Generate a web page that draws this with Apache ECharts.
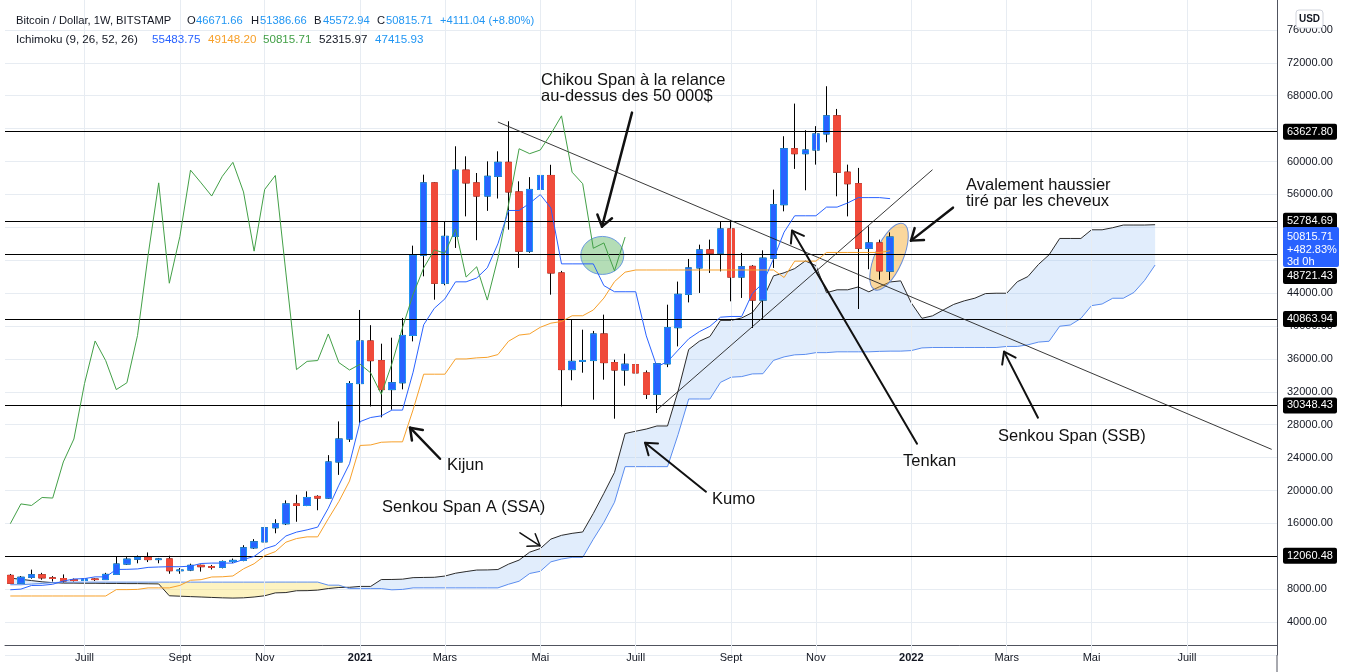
<!DOCTYPE html>
<html><head><meta charset="utf-8">
<script src="https://cdn.jsdelivr.net/npm/echarts@6/dist/echarts.min.js"></script>
<style>html,body{margin:0;padding:0;background:#fff}#c{width:1348px;height:672px}</style>
</head><body><div id="c"></div>
<script>
// ---------- categories (weekly bars) ----------
const firstWeek = '2020-05-18';
const weekCount = 120;
const weeks = [];
(function(){ let t = Date.parse(firstWeek + 'T00:00:00Z'); for (let i = 0; i < weekCount; i++) { weeks.push(new Date(t).toISOString().slice(0,10)); t += 7*864e5; } })();

// ---------- x tick labels ----------
const tickLabels = [['2020-07-06','Juill'],['2020-09-07','Sept'],['2020-11-02','Nov'],['2021-01-04','2021'],['2021-03-01','Mars'],['2021-05-03','Mai'],['2021-07-05','Juill'],['2021-09-06','Sept'],['2021-11-01','Nov'],['2022-01-03','2022'],['2022-03-07','Mars'],['2022-05-02','Mai'],['2022-07-04','Juill']];

// ---------- weekly OHLC (BTC/USD Bitstamp) ----------
const opens = [9680,8720,9450,9750,9380,9300,9150,9060,9240,9170, 9800,11060,11650,11870,11600,11680,10250,10330,10900,10740, 10660,11370,11500,13030,13760,15470,15960,18370,18180,19280, 19080,23470,26260,33000,38180,35790,32270,33100,38850,48600, 57400,45200,50900,58950,57400,55800,58200,59900,56300,49100, 56600,58300,46450,34700,35700,35800,39030,35550,34650,35300, 34300,31700,35400,39800,43850,47060,49250,48850,51800,45950, 47250,43150,48250,54750,61550,60950,61400,63350,65550,58700, 57300,49450,50100,46671.66];
const highs = [9850,9600,10380,9990,9590,9800,9300,9450,9330,9990, 12000,11900,12100,12470,11800,12070,10570,11100,10990,10950, 11490,11730,13350,14090,15970,16500,18800,19480,19900,19420, 24300,28400,33300,41950,40100,37850,38580,40980,49770,58400, 57500,52700,61850,60630,58600,60020,61240,64890,57590,58100, 59600,59600,46700,40770,39550,39400,41380,35900,36630,35500, 34600,35400,42590,45400,48150,49890,50500,52720,52900,48880, 47400,49200,56580,63070,67040,63800,64300,69150,66390,59620, 59220,52110,50500,51386.66];
const lows = [8700,8630,9280,9150,8930,8830,8940,9050,9000,9130, 9770,10950,11150,11300,11150,9880,9880,10200,10140,10400, 10530,11200,11400,12900,13200,14800,15800,16200,18100,17600, 19000,21900,25900,28200,30220,28890,29820,32300,38130,46040, 43200,44950,49490,53330,50430,54000,55500,51710,47060,48900, 52930,43810,30220,33400,34320,31040,33470,28730,32740,32170, 31120,29420,35000,37520,42870,44020,46450,46640,43000,43410, 39760,40770,47060,53940,59100,56500,59620,62330,55770,53330, 42070,46900,45630,45572.94];
const closes = [8720,9450,9750,9380,9300,9000,9060,9240,9170,9800, 11060,11650,11870,11600,11680,10250,10330,10900,10740,10660, 11370,11500,13030,13760,15470,15960,18370,18180,19150,19080, 23470,26260,33000,38180,35790,32270,33100,38850,48600,57400, 45200,50900,58950,57400,55800,58200,59900,56300,49100,56600, 58300,46450,34700,35700,35800,39030,35550,34650,35350,34300, 31700,35400,39800,43850,47060,49250,48850,51800,45950,47200, 43150,48250,54750,61550,60950,61400,63350,65550,58700,57300, 49450,50100,46704.67,50815.71];

// ---------- Ichimoku lines ----------
const tenkan = [7930,8010,8450,8470,8600,8990,9240,9290,9500,9500, 10400,10415,10465,10650,10700,10735,10735,10800,11125,11175, 11175,11175,11615,11985,12925,13320,14470,14940,15215,15550, 17850,20650,23250,28375,28875,29075,29775,29775,34385,40150, 42150,43300,45370,45370,45835,47075,49990,54045,54045,54920, 55975,54350,47555,47555,47555,47555,44910,44165,44165,44165, 38800,35055,35660,37065,38440,39310,39960,41070,41160,41160, 43950,45210,48170,51415,53400,53400,53400,54455,54455,54960, 55610,55610,55610,55483.75];
const kijun = [7175,7175,7175,7175,7175,7175,7175,7175,7175,7175, 7950,7950,7975,8160,8160,8160,8460,9085,9160,9485, 9510,9610,10475,11095,12085,12565,13715,14155,14365,14365, 16565,18670,21150,25475,25540,25865,25915,25915,29825,34140, 34140,34140,35995,35995,36125,36190,36525,38145,38895,39045, 39845,40345,40545,41245,41245,41945,43395,45395,46545,46810, 46810,46810,46810,46810,46810,46810,46810,46810,46810,46810, 46810,46810,46810,45900,47885,47885,47885,48940,48940,48940, 48940,48940,48940,49148.20];
const chikou = [15960,18370,18180,19150,19080,23470,26260,33000,38180,35790, 32270,33100,38850,48600,57400,45200,50900,58950,57400,55800, 58200,59900,56300,49100,56600,58300,46450,34700,35700,35800, 39030,35550,34650,35350,34300,31700,35400,39800,43850,47060, 49250,48850,51800,45950,47200,43150,48250,54750,61550,60950, 61400,63350,65550,58700,57300,49450,50100,46704.67,50815.71];
const senkouA = [9350,9200,9050,8900,8800,8740,8740,8720,8720,8700, 8700,8680,8680,8660,8640,7200,7150,7100,7050,7000, 6950,6920,6950,7050,7200, 7553,7593,7813,7823,7888,8083,8208,8233,8338,8338, 9175,9183,9220,9405,9430,9448,9598,9943,10143,10330, 10343,10393,11045,11540,12505,12943,14093,14548,14790,14958, 17208,19660,22200,26925,27208,27470,27845,27845,32105,37145, 38145,38720,40683,40683,40980,41633,43258,46095,46470,46983, 47910,47348,44050,44400,44400,44750,44153,44780,45355,45488, 42805,40933,41235,41938,42625,43060,43385,43940,43985,43985, 45380,46010,47490,48658,50643,50643,50643,51698,51698,51950, 52275,52275,52275,52315.97];
const senkouB = [8540,8540,8620,8700,8800,8860,8860,8860,8860,8860, 8860,8860,8860,8860,8860,8860,8860,8860,8860,8860, 8860,8860,8860,8860,8860, 8865,8865,8865,8865,8865,8490,8490,8075,8075,8075, 8075,7925,7975,8160,8160,8160,8160,8160,8160,8160, 8160,8160,8600,8970,9910,10175,11325,11665,11875,11875, 14075,16125,18575,22900,22900,22900,22900,22900,26810,31125, 31125,31125,33150,33775,33850,34175,34200,35820,36245,36495, 36545,36760,36760,36860,36860,36860,36860,36915,36945,36945, 37010,37335,37385,37385,37385,37385,37385,37385,37385,37515, 37515,37710,38045,38145,39970,40120,40920,42475,42675,43375, 43375,44075,45525,47415.93];

// ---------- horizontal levels & trend lines ----------
const levels = [63627.80, 52784.69, 48721.43, 40863.94, 30348.43, 12060.48];
const trendLines = [[['2021-04-05',64800],['2022-08-29',25000]], [['2021-07-19',29800],['2022-01-17',59000]]];

// ---------- annotations (data space: week index, price) ----------
const notes = [
  {text:'Chikou Span à la relance', j:50.07, v:69840},
  {text:'au-dessus des 50 000$', j:50.07, v:67890},
  {text:'Avalement haussier', j:90.16, v:57070},
  {text:'tiré par les cheveux', j:90.16, v:55120},
  {text:'Kijun', j:41.2, v:23010},
  {text:'Senkou Span A (SSA)', j:35.07, v:17900},
  {text:'Kumo', j:66.2, v:18880},
  {text:'Tenkan', j:84.22, v:23500},
  {text:'Senkou Span (SSB)', j:93.18, v:26540}
];
const arrows = [
  {from:[58.65,65940], to:[55.82,52080], w:2.5},
  {from:[88.93,54390], to:[84.97,50380], w:2.5},
  {from:[40.54,23860], to:[37.71,27640], w:2.5},
  {from:[48.08,14860], to:[49.97,13280], w:1.5},
  {from:[65.63,19850], to:[59.88,25810], w:2},
  {from:[85.54,25690], to:[73.75,51600], w:2},
  {from:[96.95,28850], to:[93.75,36880], w:2}
];
const ellipses = [
  {j:55.85, v:48580, rx:21.5, ry:19, rot:0, fill:'rgba(76,175,80,0.42)', stroke:'#6c9be0'},
  {j:82.9, v:48430, rx:14, ry:36, rot:-0.41, fill:'rgba(245,166,35,0.45)', stroke:'#6c8fd8'}
];

// ---------- build library data ----------
const candleData = opens.map((o,i)=>[o, closes[i], lows[i], highs[i]]);
const bodyData = opens.map((o,i)=>[o, closes[i], Math.min(o,closes[i]), Math.max(o,closes[i])]);
const cloudBase = senkouA.map((a,i)=>Math.min(a, senkouB[i]));
const cloudUp = senkouA.map((a,i)=> a > senkouB[i] ? a - senkouB[i] : 0);
const cloudDown = senkouA.map((a,i)=> senkouB[i] > a ? senkouB[i] - a : 0);
const tickMap = {}; tickLabels.forEach(t => tickMap[t[0]] = t[1]);
const showTick = (idx, val) => tickMap[val] !== undefined;

const FONT = 'Liberation Sans';
const TXT = '#131722';
const chart = echarts.init(document.getElementById('c'), null, {renderer:'canvas', width:1348, height:672});

const lineSeries = (name, data, color, z) => ({name, type:'line', data, symbol:'none', showSymbol:false, silent:true, z, lineStyle:{color, width:1}, connectNulls:false});

chart.setOption({
  animation:false,
  backgroundColor:'#ffffff',
  grid:{left:5, right:71, top:-3, bottom:17, containLabel:false, outerBoundsMode:'none'},
  xAxis:{type:'category', data:weeks, boundaryGap:true, offset:-10,
    axisLine:{show:true, onZero:false, lineStyle:{color:'#50535e', width:1}},
    axisTick:{show:false},
    axisLabel:{interval:showTick, margin:7, color:TXT, fontSize:11, fontFamily:FONT,
      formatter:(v)=>{ const t = tickMap[v]; if (!t) return ''; return /^\d{4}$/.test(t) ? '{b|'+t+'}' : t; },
      rich:{b:{fontWeight:'bold', fontSize:11, fontFamily:FONT, color:TXT}}},
    splitLine:{show:false}},
  yAxis:{type:'value', position:'right', min:0, max:80000, interval:4000,
    axisLine:{show:true, lineStyle:{color:'#50535e', width:1}},
    axisTick:{show:false},
    axisLabel:{showMinLabel:false, showMaxLabel:false, margin:10, color:TXT, fontSize:11, fontFamily:FONT, formatter:(v)=>v.toFixed(2)},
    splitLine:{show:true, lineStyle:{color:'#e7ecf2', width:1}}},
  series:[
    {name:'cloudBase', type:'line', data:cloudBase, stack:'kumo', symbol:'none', silent:true, z:1, lineStyle:{opacity:0},
      markLine:{silent:true, symbol:['none','none'], label:{show:false}, lineStyle:{color:'#e7ecf2', width:1, type:'solid'},
        data: tickLabels.map(t=>({xAxis:t[0]}))}},
    {name:'cloudUp', type:'line', data:cloudUp, stack:'kumo', symbol:'none', silent:true, z:1, lineStyle:{opacity:0}, areaStyle:{color:'rgba(144,190,245,0.27)', opacity:1}},
    {name:'cloudDown', type:'line', data:cloudDown, stack:'kumo', symbol:'none', silent:true, z:1, lineStyle:{opacity:0}, areaStyle:{color:'rgba(250,224,100,0.40)', opacity:1}},
    lineSeries('Senkou A', senkouA, '#2b2b2b', 2),
    lineSeries('Senkou B', senkouB, '#5b8def', 2),
    {name:'wicks', type:'candlestick', data:candleData, barWidth:7, silent:true, z:3,
      itemStyle:{color:'#000', color0:'#000', borderColor:'#000', borderColor0:'#000', borderWidth:1}},
    {name:'bodies', type:'candlestick', data:bodyData, barWidth:7, silent:true, z:4,
      itemStyle:{color:'#2962ff', color0:'#ef4a3a', borderColor:'#2196f3', borderColor0:'#ef4a3a', borderWidth:1}},
    lineSeries('Chikou', chikou, '#43a047', 5),
    lineSeries('Kijun', kijun, '#f7a02a', 5),
    lineSeries('Tenkan', tenkan, '#2962ff', 5),
    {name:'levels', type:'line', data:[], symbol:'none', silent:true, z:6,
      markLine:{silent:true, symbol:['none','none'], label:{show:false},
        data: levels.map(v=>({yAxis:v, lineStyle:{color:'#000', width:1.2, type:'solid'}}))
          .concat(trendLines.map(t=>[{coord:t[0], lineStyle:{color:'#222', width:0.9, type:'solid'}},{coord:t[1]}]))}}
  ]
});

// ---------- overlay drawings positioned through the axes ----------
function P(j, v){
  const x0 = chart.convertToPixel({xAxisIndex:0}, weeks[0]);
  const x1 = chart.convertToPixel({xAxisIndex:0}, weeks[1]);
  return [x0 + j*(x1-x0), chart.convertToPixel({yAxisIndex:0}, v)];
}
const Y = v => chart.convertToPixel({yAxisIndex:0}, v);
const g = [];
const txt = (x, y, text, color, size, weight, align, z) => ({type:'text', z:z||100, x, y, style:{text, fill:color, font:(weight||'normal')+' '+size+'px "'+FONT+'"', align:align||'left', verticalAlign:'middle', textAlign:align||'left', textVerticalAlign:'middle'}});

// header legend
const BLUE = '#2196f3';
[[16,'Bitcoin / Dollar, 1W, BITSTAMP',TXT],[187,'O',TXT],[196,'46671.66',BLUE],[251,'H',TXT],[260,'51386.66',BLUE],[314,'B',TXT],[323,'45572.94',BLUE],[377,'C',TXT],[386,'50815.71',BLUE],[440,'+4111.04 (+8.80%)',BLUE]]
  .forEach(h => g.push(txt(h[0], 21, h[1], h[2], 11.2)));
[[16,'Ichimoku (9, 26, 52, 26)',TXT],[152,'55483.75','#2962ff'],[208,'49148.20','#f7a02a'],[263,'50815.71','#43a047'],[319,'52315.97',TXT],[375,'47415.93',BLUE]]
  .forEach(h => g.push(txt(h[0], 39.5, h[1], h[2], 11.6)));

// ellipses (under the candles)
ellipses.forEach(e => { const p = P(e.j, e.v); g.push({type:'ellipse', z:2.5, x:p[0], y:p[1], rotation:e.rot, shape:{cx:0, cy:0, rx:e.rx, ry:e.ry}, style:{fill:e.fill, stroke:e.stroke, lineWidth:1}}); });

// arrows
arrows.forEach(a => {
  const t = P(a.from[0], a.from[1]), h = P(a.to[0], a.to[1]);
  const dx = h[0]-t[0], dy = h[1]-t[1], L = Math.hypot(dx,dy), rx = -dx/L, ry = -dy/L;
  const ang = 0.62, len = 13, c = Math.cos(ang), s = Math.sin(ang);
  const p1 = [h[0] + len*(rx*c - ry*s), h[1] + len*(rx*s + ry*c)];
  const p2 = [h[0] + len*(rx*c + ry*s), h[1] + len*(-rx*s + ry*c)];
  g.push({type:'polyline', z:95, shape:{points:[t,h]}, style:{stroke:'#111', lineWidth:a.w, fill:null, lineCap:'round'}});
  g.push({type:'polyline', z:95, shape:{points:[p1,h,p2]}, style:{stroke:'#111', lineWidth:a.w, fill:null, lineCap:'round', lineJoin:'round'}});
});

// annotation texts
notes.forEach(n => { const p = P(n.j, n.v); g.push(txt(p[0], p[1], n.text, '#111', 16.5)); });

// price-axis boxes
const axisX = chart.convertToPixel({xAxisIndex:0}, weeks[weekCount-1]) + 5.3;
const boxX = axisX + 6;
const lastClose = closes[closes.length-1];
const blueTop = Y(lastClose) - 10, blueBottom = blueTop + 40;
levels.forEach(v => {
  let y = Y(v);
  if (y > blueTop - 8 && y < blueBottom + 8 && v < lastClose) y = blueBottom + 9;
  g.push({type:'rect', z:100, shape:{x:boxX, y:y-8, width:54, height:16, r:2}, style:{fill:'#000'}});
  g.push(txt(boxX+4, y, v.toFixed(2), '#fff', 11, null, null, 101));
});
g.push({type:'rect', z:102, shape:{x:boxX, y:blueTop, width:56, height:40, r:2}, style:{fill:'#2962ff'}});
g.push(txt(boxX+4, blueTop+10, lastClose.toFixed(2), '#fff', 11, null, null, 103));
g.push(txt(boxX+4, blueTop+23, '+482.83%', '#fff', 11, null, null, 103));
g.push(txt(boxX+4, blueTop+35, '3d 0h', '#fff', 11, null, null, 103));
// USD badge
g.push({type:'rect', z:100, shape:{x:1296, y:10, width:27, height:18, r:3}, style:{fill:'#fff', stroke:'#d1d4dc', lineWidth:1}});
g.push(txt(1309.5, 19, 'USD', TXT, 10, 'bold', 'center', 101));
// price-axis border down to the bottom edge
g.push({type:'line', z:100, shape:{x1:axisX, y1:Y(0), x2:axisX, y2:672}, style:{stroke:'#50535e', lineWidth:1}});

chart.setOption({graphic:g});
</script>
</body></html>
